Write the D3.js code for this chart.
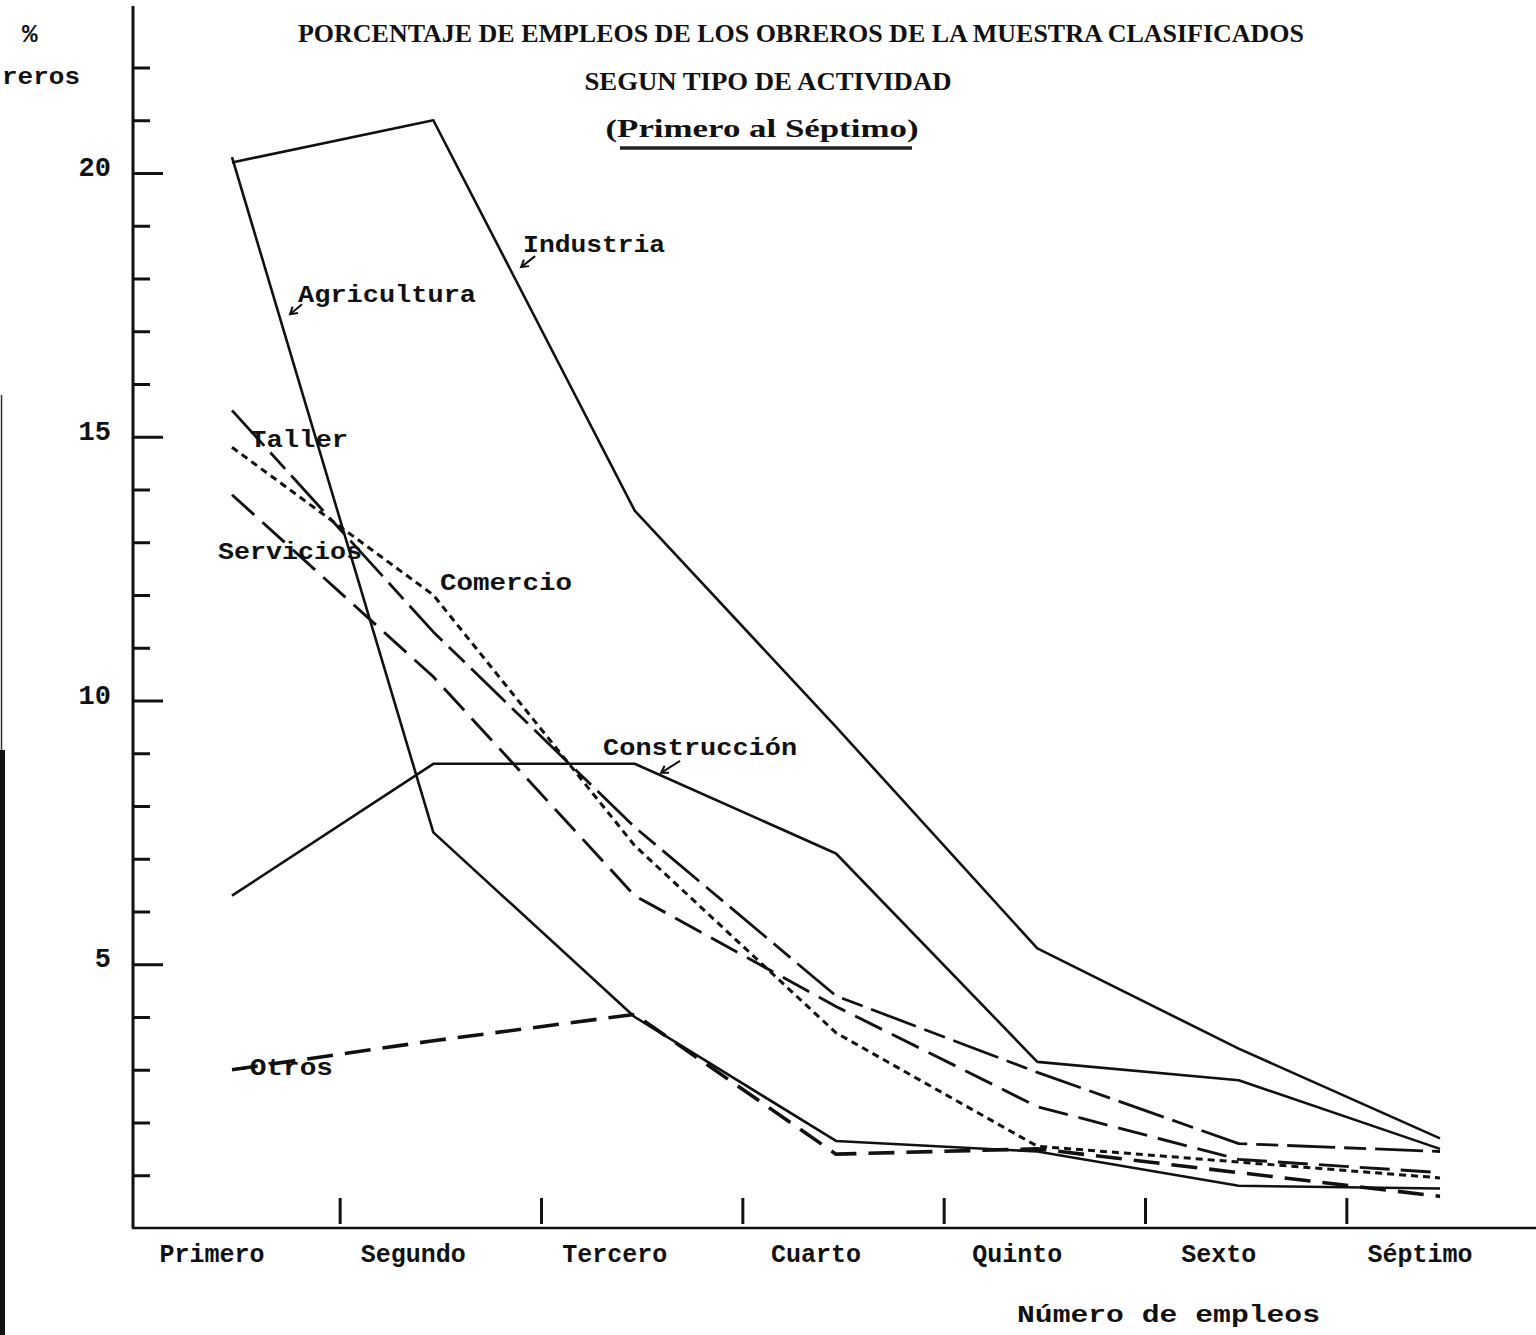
<!DOCTYPE html>
<html>
<head>
<meta charset="utf-8">
<script src="https://cdn.jsdelivr.net/npm/d3@7"></script>
<style>
  body { margin: 0; background: #fff; }
  svg { display: block; }
  .lbl { font-family: "Liberation Mono", "DejaVu Sans Mono", monospace; font-weight: bold; fill: #111; }
  .ttl { font-family: "Liberation Serif", "DejaVu Serif", serif; font-weight: bold; fill: #111; }
</style>
</head>
<body>
<script>
// ------------  DATA  ------------
const categories = ["Primero", "Segundo", "Tercero", "Cuarto", "Quinto", "Sexto", "Séptimo"];

const industria    = [20.2, 21.0, 13.6, 9.5, 5.3, 3.4, 1.7];
const agricultura  = [20.3, 7.5, 4.0, 1.65, 1.45, 0.8, 0.75];
const construccion = [6.3, 8.8, 8.8, 7.1, 3.15, 2.8, 1.5];
const taller       = [15.5, 11.3, 7.6, 4.4, 2.95, 1.6, 1.45];
const comercio     = [14.8, 12.0, 7.25, 3.7, 1.55, 1.25, 0.95];
const servicios    = [13.9, 10.45, 6.3, 4.2, 2.3, 1.3, 1.05];
const otros        = [3.0, 3.55, 4.05, 1.4, 1.5, 1.05, 0.6];

const yMajorTicks = [5, 10, 15, 20];
const yMinorTicks = [1, 2, 3, 4, 6, 7, 8, 9, 11, 12, 13, 14, 16, 17, 18, 19, 21, 22];
const xSepTicks = [0.5, 1.5, 2.5, 3.5, 4.5, 5.5];

const titleLines = [
  "PORCENTAJE DE EMPLEOS DE LOS OBREROS DE LA MUESTRA CLASIFICADOS",
  "SEGUN TIPO DE ACTIVIDAD",
  "(Primero al Séptimo)"
];

// ------------  PARAMETERS  ------------
const W = 1536, H = 1335;
const axisX = 133;

const x = d3.scaleLinear().domain([0, 6]).range([232, 1440]);
const y = d3.scaleLinear().domain([0, 20]).range([1228, 173]);

const series = [
  { name: "Industria",    values: industria,    dash: null,          w: 2.6 },
  { name: "Agricultura",  values: agricultura,  dash: null,          w: 2.6 },
  { name: "Construcción", values: construccion, dash: null,          w: 2.6 },
  { name: "Taller",       values: taller,       dash: "48,9,22,9",   w: 2.8 },
  { name: "Comercio",     values: comercio,     dash: "7,5",         w: 3.0 },
  { name: "Servicios",    values: servicios,    dash: "30,11",       w: 2.9 },
  { name: "Otros",        values: otros,        dash: "26,12",       w: 3.6 }
];

// label anchors in data units: [category index, value, text width px]
const labelPos = {
  "Industria":    [1.446, 18.5, 142],
  "Agricultura":  [0.328, 17.55, 178],
  "Taller":       [0.09, 14.8, 98],
  "Servicios":    [-0.07, 12.68, 144],
  "Comercio":     [1.033, 12.1, 132],
  "Construcción": [1.843, 8.97, 194],
  "Otros":        [0.005, 2.9, 100]
};

const svg = d3.select("body").append("svg").attr("width", W).attr("height", H);

// scan edge on the left
svg.append("rect").attr("x", 0).attr("y", 750).attr("width", 5).attr("height", H - 750).attr("fill", "#111");
svg.append("line").attr("x1", 1.5).attr("x2", 1.5).attr("y1", 395).attr("y2", 750)
  .attr("stroke", "#333").attr("stroke-width", 1.5);

// ------------  TITLE  ------------
const titleSpec = [[801, 42, 1006, 25], [768, 90, 367, 25], [762, 137, 313, 25]];
titleLines.forEach((t, i) => {
  const s = titleSpec[i];
  svg.append("text").attr("class", "ttl")
    .attr("x", s[0]).attr("y", s[1])
    .attr("text-anchor", "middle")
    .attr("font-size", s[3])
    .attr("textLength", s[2]).attr("lengthAdjust", "spacingAndGlyphs")
    .text(t);
});
svg.append("line").attr("x1", 620).attr("x2", 912).attr("y1", 148).attr("y2", 148)
  .attr("stroke", "#222").attr("stroke-width", 3.5);

// ------------  AXES  ------------
svg.append("line").attr("x1", axisX).attr("x2", axisX).attr("y1", 6).attr("y2", y(0))
  .attr("stroke", "#111").attr("stroke-width", 3);
svg.append("line").attr("x1", axisX - 1).attr("x2", W).attr("y1", y(0)).attr("y2", y(0))
  .attr("stroke", "#111").attr("stroke-width", 2.5);

const minorAxis = svg.append("g").attr("transform", `translate(${axisX},0)`)
  .call(d3.axisLeft(y).tickValues(yMinorTicks).tickSize(-17).tickFormat(""));
minorAxis.select(".domain").remove();
minorAxis.selectAll("line").attr("stroke", "#111").attr("stroke-width", 3);

const majorAxis = svg.append("g").attr("transform", `translate(${axisX},0)`)
  .call(d3.axisLeft(y).tickValues(yMajorTicks).tickSize(-30).tickPadding(22));
majorAxis.select(".domain").remove();
majorAxis.selectAll("line").attr("stroke", "#111").attr("stroke-width", 3);
majorAxis.selectAll("text")
  .attr("class", "lbl")
  .attr("font-size", 27)
  .attr("dy", "0.1em")
  .style("fill", "#111");

const sepAxis = svg.append("g").attr("transform", `translate(0,${y(0)})`)
  .call(d3.axisBottom(x).tickValues(xSepTicks).tickSize(-26).tickFormat(""));
sepAxis.select(".domain").remove();
sepAxis.selectAll("line").attr("stroke", "#111").attr("stroke-width", 3)
  .attr("transform", "translate(7,-4)");

// category labels
svg.selectAll(".cat").data(categories).enter().append("text")
  .attr("class", "lbl cat")
  .attr("x", (d, i) => x(i) - 20)
  .attr("y", 1262)
  .attr("text-anchor", "middle")
  .attr("font-size", 25)
  .text(d => d);

// axis titles
svg.append("text").attr("class", "lbl").attr("x", 22).attr("y", 42).attr("font-size", 26).text("%");
svg.append("text").attr("class", "lbl").attr("x", 2).attr("y", 84)
  .attr("font-size", 24).attr("textLength", 78).attr("lengthAdjust", "spacingAndGlyphs").text("reros");
svg.append("text").attr("class", "lbl").attr("x", 1017).attr("y", 1322).attr("font-size", 23)
  .attr("textLength", 303).attr("lengthAdjust", "spacingAndGlyphs").text("Número de empleos");

// ------------  LINES  ------------
const line = d3.line().x((d, i) => x(i)).y(d => y(d));

svg.selectAll(".series").data(series).enter().append("path")
  .attr("class", "series")
  .attr("d", d => line(d.values))
  .attr("fill", "none")
  .attr("stroke", "#111")
  .attr("stroke-width", d => d.w)
  .attr("stroke-linejoin", "round")
  .attr("stroke-dasharray", d => d.dash);

// ------------  LABELS  ------------
series.forEach(s => {
  const p = labelPos[s.name];
  const txt = s.name === "Otros" ? "-Otros" : s.name;
  svg.append("text").attr("class", "lbl")
    .attr("x", x(p[0])).attr("y", y(p[1]))
    .attr("font-size", 24)
    .attr("textLength", p[2]).attr("lengthAdjust", "spacingAndGlyphs")
    .text(txt);
});

// little pointer arrows
function pointer(x0, y0, x1, y1) {
  svg.append("line").attr("x1", x0).attr("y1", y0).attr("x2", x1).attr("y2", y1)
    .attr("stroke", "#111").attr("stroke-width", 2);
  const a = Math.atan2(y1 - y0, x1 - x0);
  const h = 8;
  svg.append("path")
    .attr("d", `M${x1 + h * Math.cos(a + 2.6)},${y1 + h * Math.sin(a + 2.6)} L${x1},${y1} L${x1 + h * Math.cos(a - 2.6)},${y1 + h * Math.sin(a - 2.6)}`)
    .attr("fill", "none").attr("stroke", "#111").attr("stroke-width", 2);
}
const pInd = labelPos["Industria"], pAgr = labelPos["Agricultura"], pCon = labelPos["Construcción"];
pointer(x(pInd[0]) + 12, y(pInd[1]) + 4, x(pInd[0]) - 2, y(pInd[1]) + 15);
pointer(x(pAgr[0]) + 4, y(pAgr[1]) + 2, x(pAgr[0]) - 8, y(pAgr[1]) + 12);
pointer(x(pCon[0]) + 77, y(pCon[1]) + 6, x(pCon[0]) + 58, y(pCon[1]) + 18);
</script>
</body>
</html>
